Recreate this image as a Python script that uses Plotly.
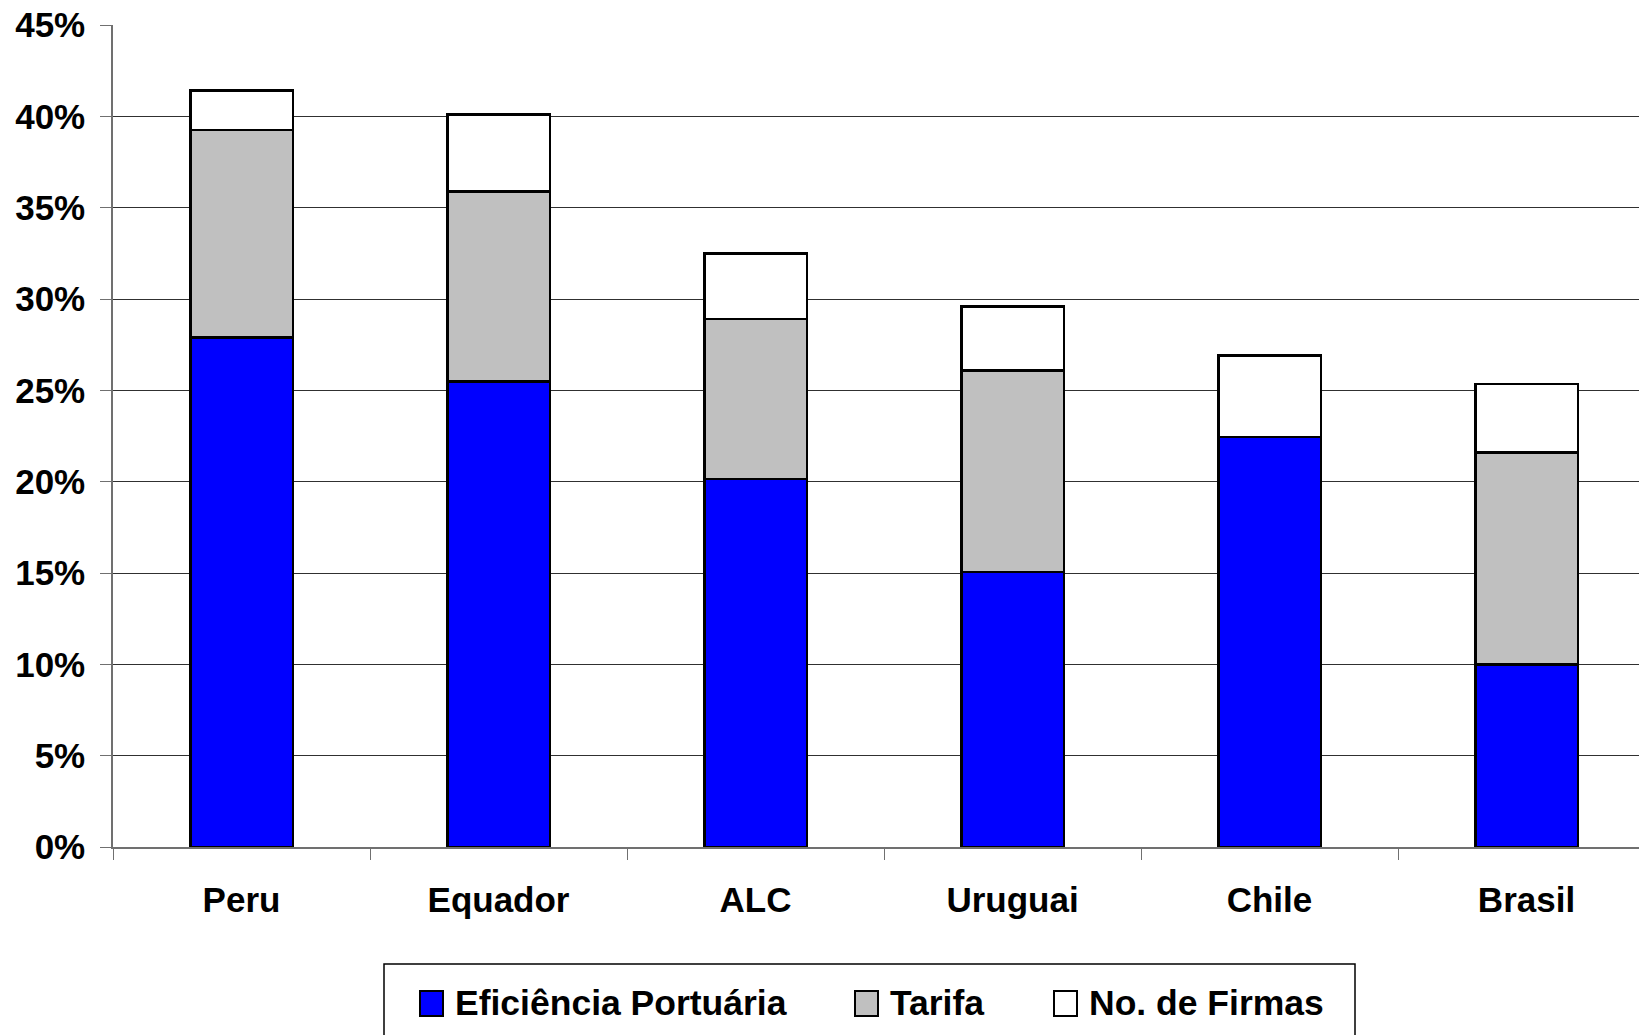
import plotly.graph_objects as go

categories = ["Peru", "Equador", "ALC", "Uruguai", "Chile", "Brasil"]
eficiencia = [27.9, 25.5, 20.15, 15.05, 22.45, 10.0]
tarifa = [11.35, 10.4, 8.75, 11.05, 0.0, 11.6]
firmas = [2.15, 4.2, 3.6, 3.5, 4.45, 3.75]
series_names = ["Eficiência Portuária", "Tarifa", "No. de Firmas"]
series_colors = ["#0000FF", "#C0C0C0", "#FFFFFF"]
y_ticks = [0, 5, 10, 15, 20, 25, 30, 35, 40, 45]
y_tick_labels = [f"{v}%" for v in y_ticks]

W, H = 1639, 1035
ML, MR, MT, MB = 113, 0, 25, 188
PW, PH = W - ML - MR, H - MT - MB
CAT_W = 257.0  # pixel width of a category slot

FONT = "Arial, 'Liberation Sans', sans-serif"

fig = go.Figure()
for name, vals, col in zip(series_names, [eficiencia, tarifa, firmas], series_colors):
    fig.add_trace(go.Bar(
        x=categories, y=vals, name=name,
        marker=dict(color=col, line=dict(color="black", width=2.8)),
        showlegend=False,
    ))

def px_x(X):
    return (X - ML) / PW

def px_y(Y):
    return (MT + PH - Y) / PH

shapes = []
annotations = []
# legend box
shapes.append(dict(type="rect", xref="paper", yref="paper",
                   x0=px_x(384), x1=px_x(1355), y0=px_y(964), y1=px_y(1060),
                   line=dict(color="black", width=1.5), fillcolor="white"))
legend_items = [(420, 453), (855, 888), (1054, 1087)]
for (sx, tx), name, col in zip(legend_items, series_names, series_colors):
    shapes.append(dict(type="rect", xref="paper", yref="paper",
                       x0=px_x(sx), x1=px_x(sx + 23), y0=px_y(1016), y1=px_y(991),
                       line=dict(color="black", width=2), fillcolor=col))
    annotations.append(dict(xref="paper", yref="paper", x=px_x(tx), y=px_y(1003),
                            xanchor="left", yanchor="middle", showarrow=False,
                            text=name,
                            font=dict(family=FONT, size=35.5, color="black", weight="bold")))

fig.update_layout(
    width=W, height=H,
    margin=dict(l=ML, r=MR, t=MT, b=MB),
    paper_bgcolor="white", plot_bgcolor="white",
    barmode="stack", bargap=0.6,
    font=dict(family=FONT, color="black"),
    shapes=shapes, annotations=annotations,
    showlegend=False,
)
fig.update_xaxes(
    range=[-0.5, -0.5 + PW / CAT_W],
    showline=True, linecolor="#707070", linewidth=1.5,
    ticks="outside", tickson="boundaries", ticklen=11, tickcolor="#707070",
    tickfont=dict(family=FONT, size=35, color="black", weight="bold"),
    ticklabelstandoff=21,
    showgrid=False, zeroline=False,
)
fig.update_yaxes(
    range=[0, 45],
    tickvals=y_ticks, ticktext=y_tick_labels,
    showline=True, linecolor="#707070", linewidth=1.5,
    ticks="outside", ticklen=11, tickcolor="#707070",
    tickfont=dict(family=FONT, size=35, color="black", weight="bold"),
    ticklabelstandoff=8,
    showgrid=True, gridcolor="#303030", gridwidth=1,
    zeroline=False,
)

fig.write_html("out.html")
